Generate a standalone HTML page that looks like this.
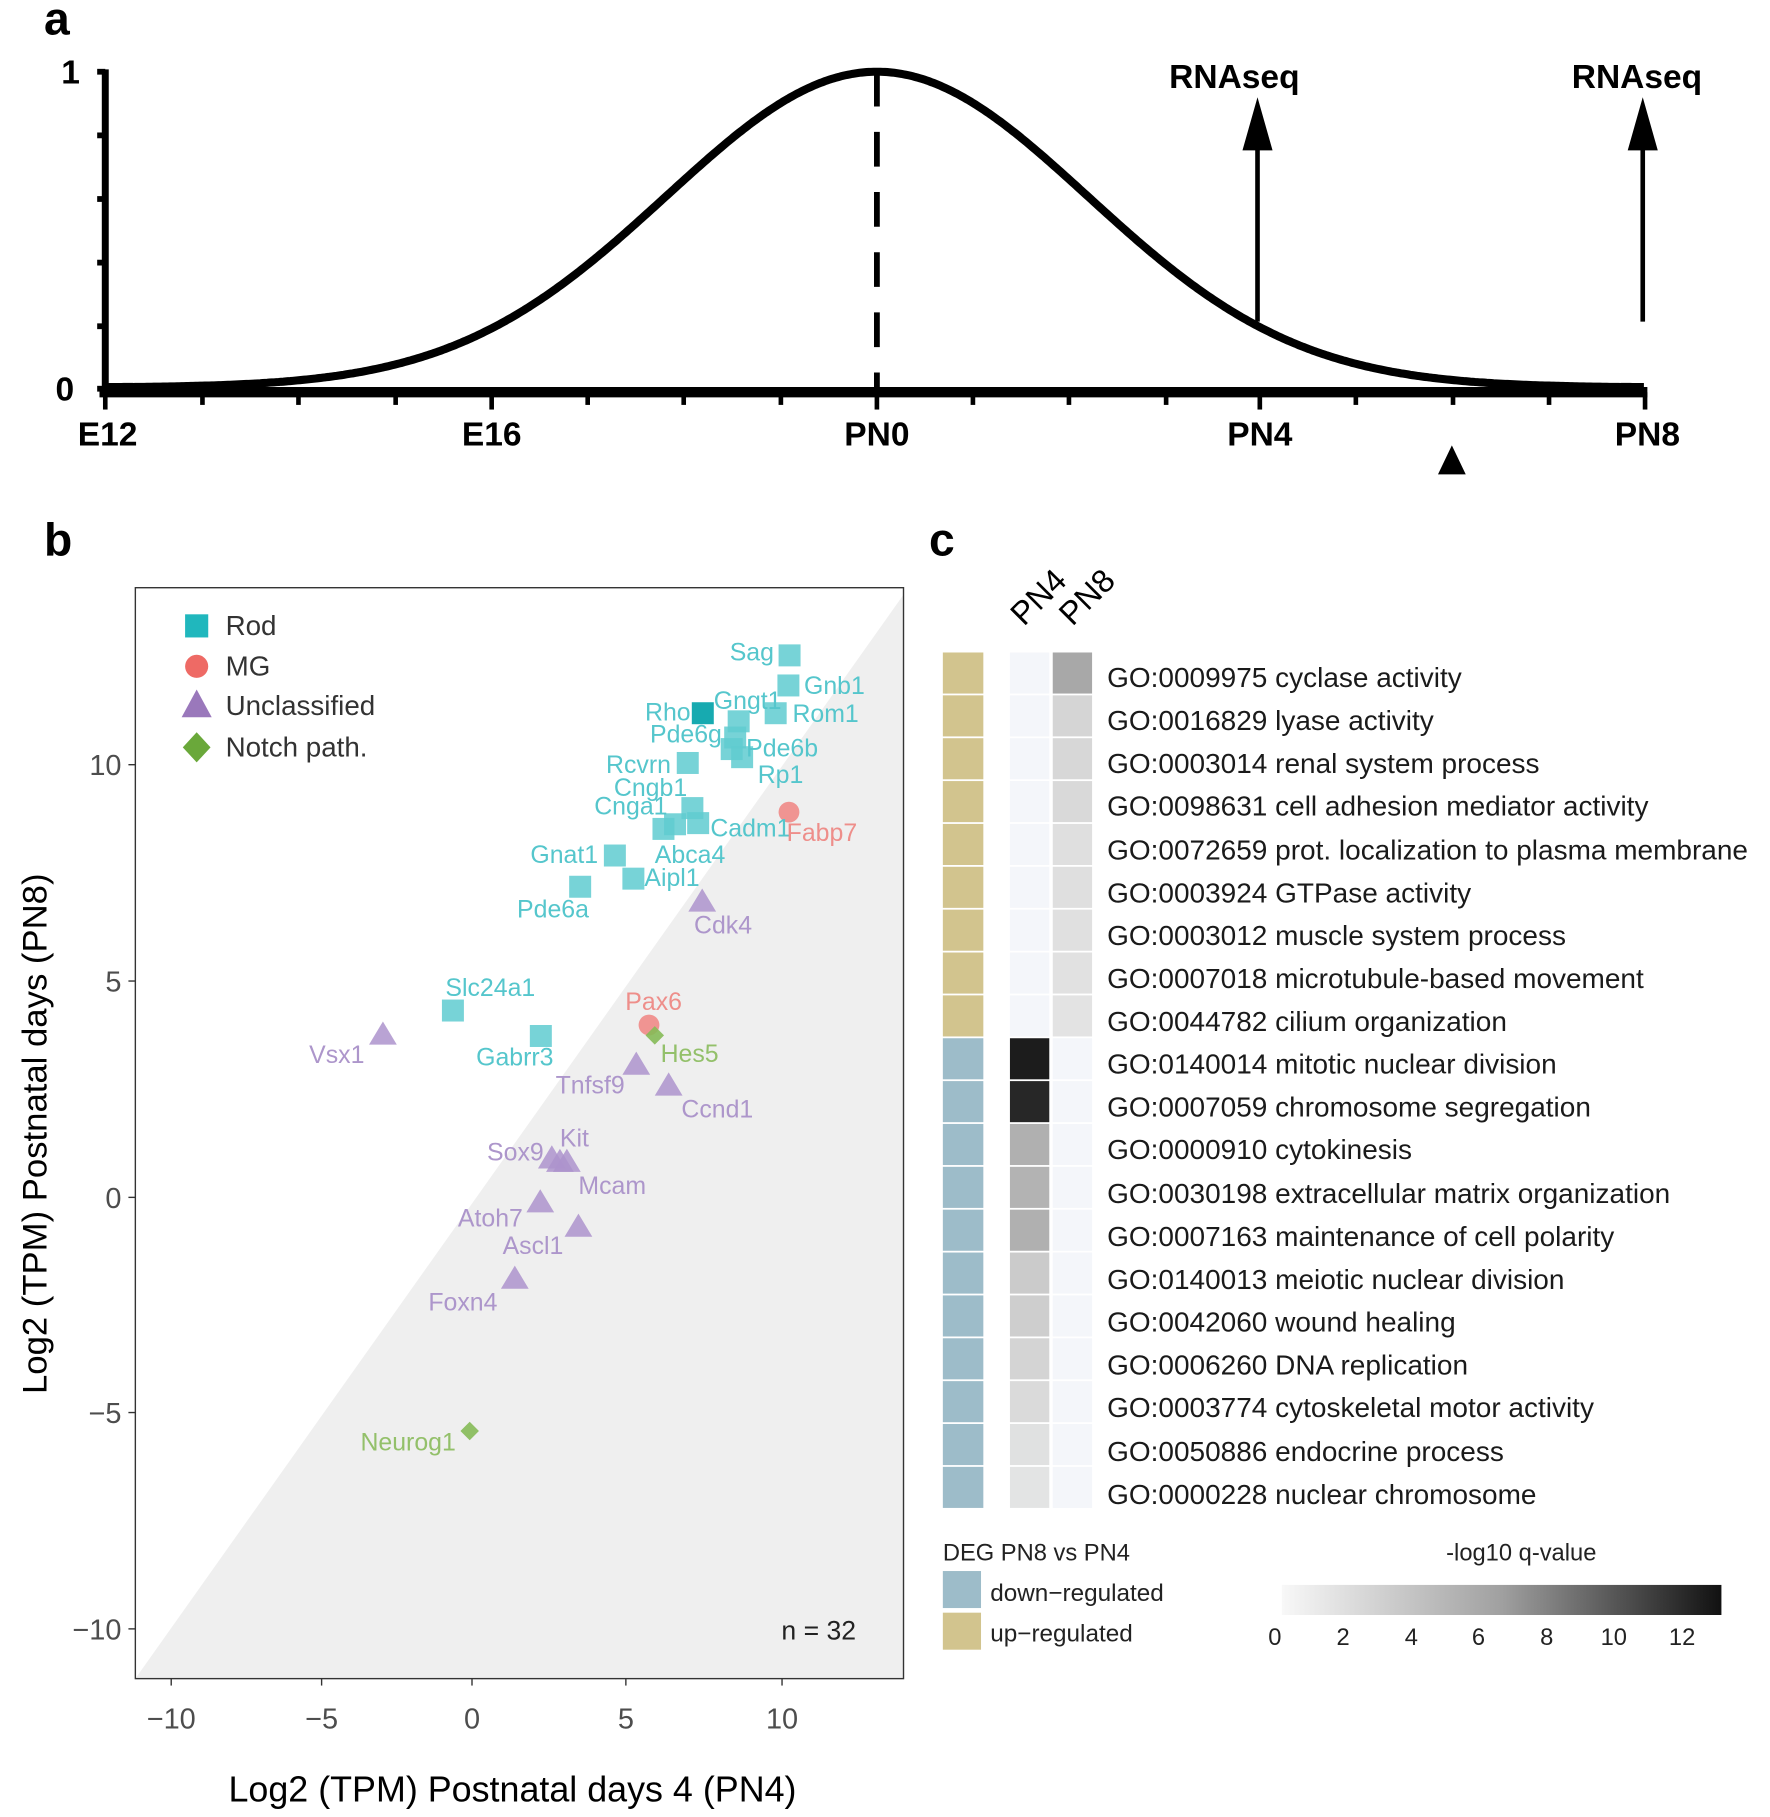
<!DOCTYPE html>
<html><head><meta charset="utf-8"><style>html,body{margin:0;padding:0;background:#fff}svg{display:block}</style></head>
<body>
<svg width="1770" height="1817" viewBox="0 0 1530 1570.6" xmlns="http://www.w3.org/2000/svg" font-family="Liberation Sans, sans-serif">
<!-- Panel a -->
<text x="38" y="30" font-size="40" font-weight="bold">a</text>
<g stroke="#000" fill="none">
<line x1="91" y1="60" x2="91" y2="342" stroke-width="6"/>
<g stroke-width="5"><line x1="84" y1="62" x2="91" y2="62"/><line x1="84" y1="117" x2="91" y2="117"/><line x1="84" y1="172" x2="91" y2="172"/><line x1="84" y1="227" x2="91" y2="227"/><line x1="84" y1="282" x2="91" y2="282"/><line x1="84" y1="336" x2="91" y2="336"/></g>
<line x1="86" y1="339" x2="1424" y2="339" stroke-width="9"/>
<g stroke-width="4">
<line x1="91" y1="339" x2="91" y2="354"/><line x1="175" y1="339" x2="175" y2="350"/><line x1="258" y1="339" x2="258" y2="350"/><line x1="342" y1="339" x2="342" y2="350"/><line x1="425" y1="339" x2="425" y2="354"/><line x1="508" y1="339" x2="508" y2="350"/><line x1="591" y1="339" x2="591" y2="350"/><line x1="675" y1="339" x2="675" y2="350"/><line x1="758" y1="339" x2="758" y2="354"/><line x1="841" y1="339" x2="841" y2="350"/><line x1="924" y1="339" x2="924" y2="350"/><line x1="1008" y1="339" x2="1008" y2="350"/><line x1="1089" y1="339" x2="1089" y2="354"/><line x1="1172" y1="339" x2="1172" y2="350"/><line x1="1256" y1="339" x2="1256" y2="350"/><line x1="1339" y1="339" x2="1339" y2="350"/><line x1="1422" y1="339" x2="1422" y2="354"/>
</g>
<path id="gauss" stroke-width="7" d=""/>
<line x1="758" y1="62" x2="758" y2="338" stroke-width="5" stroke-dasharray="30,22"/>
<line x1="1087" y1="125" x2="1087" y2="278" stroke-width="4"/>
<line x1="1420" y1="125" x2="1420" y2="278" stroke-width="4"/>
</g>
<path d="M1087 84 L1100 130 L1074 130 Z M1420 84 L1433 130 L1407 130 Z M1255 385 L1267 410 L1243 410 Z" fill="#000"/>
<g font-weight="bold" font-size="29" text-anchor="middle">
<text x="1067" y="76">RNAseq</text><text x="1415" y="76">RNAseq</text>
<text x="93" y="385">E12</text><text x="425" y="385">E16</text><text x="758" y="385">PN0</text><text x="1089" y="385">PN4</text><text x="1424" y="385">PN8</text>
<text x="61" y="72">1</text><text x="56" y="346">0</text>
</g>

<!-- Panel b -->
<text x="38" y="480" font-size="40" font-weight="bold">b</text>
<rect x="117" y="508" width="664" height="943" fill="#fff"/>
<path d="M117 1451 L781 514 L781 1451 Z" fill="#efefef"/>
<rect x="117" y="508" width="664" height="943" fill="none" stroke="#333" stroke-width="1.2"/>
<g stroke="#333" stroke-width="1.2">
<line x1="111" y1="661" x2="117" y2="661"/><line x1="111" y1="848" x2="117" y2="848"/><line x1="111" y1="1035" x2="117" y2="1035"/><line x1="111" y1="1221" x2="117" y2="1221"/><line x1="111" y1="1408" x2="117" y2="1408"/>
<line x1="148" y1="1451" x2="148" y2="1457"/><line x1="278" y1="1451" x2="278" y2="1457"/><line x1="408" y1="1451" x2="408" y2="1457"/><line x1="541" y1="1451" x2="541" y2="1457"/><line x1="676" y1="1451" x2="676" y2="1457"/>
</g>
<g font-size="25" fill="#4d4d4d" text-anchor="end">
<text x="105" y="670">10</text><text x="105" y="857">5</text><text x="105" y="1044">0</text><text x="105" y="1230">−5</text><text x="105" y="1417">−10</text>
</g>
<g font-size="25" fill="#4d4d4d" text-anchor="middle">
<text x="148" y="1494">−10</text><text x="278" y="1494">−5</text><text x="408" y="1494">0</text><text x="541" y="1494">5</text><text x="676" y="1494">10</text>
</g>
<text x="443" y="1557" font-size="31" text-anchor="middle">Log2 (TPM) Postnatal days 4 (PN4)</text>
<text transform="translate(40,980) rotate(-90)" font-size="30" text-anchor="middle">Log2 (TPM) Postnatal days (PN8)</text>
<text x="740" y="1417" font-size="23" fill="#222" text-anchor="end">n = 32</text>
<!-- legend -->
<rect x="160" y="531" width="20" height="20" fill="#20b7bd"/>
<circle cx="170" cy="576" r="10" fill="#ee6a65"/>
<path d="M157 620 L183 620 L170 596 Z" fill="#9a78bb"/>
<path d="M170 633 L182 646 L170 659 L158 646 Z" fill="#6aa83a"/>
<g font-size="24" fill="#333"><text x="195" y="549">Rod</text><text x="195" y="584">MG</text><text x="195" y="618">Unclassified</text><text x="195" y="654">Notch path.</text></g>
<!-- rod squares -->
<g fill="#5fcbd0" fill-opacity="0.85">
<rect x="673" y="557" width="19" height="19"/><rect x="672" y="583" width="19" height="19"/>
<rect x="661" y="607" width="19" height="19"/><rect x="629" y="614" width="19" height="19"/><rect x="626" y="628" width="19" height="19"/>
<rect x="623" y="638" width="19" height="19"/><rect x="632" y="645" width="19" height="19"/>
<rect x="585" y="650" width="19" height="19"/>
<rect x="589" y="689" width="19" height="19"/><rect x="594" y="702" width="19" height="19"/><rect x="574" y="703" width="19" height="19"/><rect x="564" y="707" width="19" height="19"/>
<rect x="522" y="730" width="19" height="19"/><rect x="538" y="750" width="19" height="19"/><rect x="492" y="757" width="19" height="19"/>
<rect x="382" y="864" width="19" height="19"/><rect x="458" y="886" width="19" height="19"/>
</g>
<rect x="598" y="607" width="19" height="19" fill="#17aab0"/>
<g fill="#f08a87" fill-opacity="0.9"><circle cx="682" cy="702" r="9"/><circle cx="561" cy="886" r="9"/></g>
<g fill="#85ba57" fill-opacity="0.9"><path d="M566 887 L574 895 L566 903 L558 895 Z"/><path d="M406 1229 L414 1237 L406 1245 L398 1237 Z"/></g>
<g fill="#ad93cc" fill-opacity="0.85">
<path d="M595 788 L619 788 L607 768 Z"/>
<path d="M319 903 L343 903 L331 883 Z"/>
<path d="M538 929 L562 929 L550 909 Z"/>
<path d="M566 947 L590 947 L578 927 Z"/>
<path d="M465 1010 L489 1010 L477 990 Z"/><path d="M472 1013 L496 1013 L484 993 Z"/><path d="M478 1013 L502 1013 L490 993 Z"/>
<path d="M455 1048 L479 1048 L467 1028 Z"/>
<path d="M488 1069 L512 1069 L500 1049 Z"/>
<path d="M433 1114 L457 1114 L445 1094 Z"/>
</g>
<g font-size="21.5">
<g fill="#55c6cc">
<text x="669" y="571" text-anchor="end">Sag</text>
<text x="695" y="600">Gnb1</text>
<text x="597" y="623" text-anchor="end">Rho</text>
<text x="617" y="613">Gngt1</text>
<text x="685" y="624">Rom1</text>
<text x="624" y="642" text-anchor="end">Pde6g</text>
<text x="645" y="654">Pde6b</text>
<text x="655" y="677">Rp1</text>
<text x="580" y="668" text-anchor="end">Rcvrn</text>
<text x="594" y="688" text-anchor="end">Cngb1</text>
<text x="577" y="704" text-anchor="end">Cnga1</text>
<text x="614" y="723">Cadm1</text>
<text x="566" y="746">Abca4</text>
<text x="517" y="746" text-anchor="end">Gnat1</text>
<text x="557" y="766">Aipl1</text>
<text x="478" y="793" text-anchor="middle">Pde6a</text>
<text x="385" y="861">Slc24a1</text>
<text x="445" y="921" text-anchor="middle">Gabrr3</text>
</g>
<g fill="#ee8e8a"><text x="680" y="727">Fabp7</text><text x="565" y="873" text-anchor="middle">Pax6</text></g>
<g fill="#93c06a"><text x="571" y="918">Hes5</text><text x="394" y="1254" text-anchor="end">Neurog1</text></g>
<g fill="#ad96cb">
<text x="625" y="807" text-anchor="middle">Cdk4</text>
<text x="315" y="919" text-anchor="end">Vsx1</text>
<text x="540" y="945" text-anchor="end">Tnfsf9</text>
<text x="589" y="966">Ccnd1</text>
<text x="484" y="991">Kit</text>
<text x="470" y="1003" text-anchor="end">Sox9</text>
<text x="500" y="1032">Mcam</text>
<text x="452" y="1060" text-anchor="end">Atoh7</text>
<text x="487" y="1084" text-anchor="end">Ascl1</text>
<text x="430" y="1133" text-anchor="end">Foxn4</text>
</g>
</g>

<!-- Panel c -->
<text x="803" y="480" font-size="40" font-weight="bold">c</text>
<text transform="translate(885,542) rotate(-45)" font-size="28">PN4</text>
<text transform="translate(927,542) rotate(-45)" font-size="28">PN8</text>
<g id="heat"></g>
<g font-size="24.2" fill="#1a1a1a">
<text x="957" y="594">GO:0009975 cyclase activity</text>
<text x="957" y="631">GO:0016829 lyase activity</text>
<text x="957" y="668">GO:0003014 renal system process</text>
<text x="957" y="705">GO:0098631 cell adhesion mediator activity</text>
<text x="957" y="743">GO:0072659 prot. localization to plasma membrane</text>
<text x="957" y="780">GO:0003924 GTPase activity</text>
<text x="957" y="817">GO:0003012 muscle system process</text>
<text x="957" y="854">GO:0007018 microtubule-based movement</text>
<text x="957" y="891">GO:0044782 cilium organization</text>
<text x="957" y="928">GO:0140014 mitotic nuclear division</text>
<text x="957" y="965">GO:0007059 chromosome segregation</text>
<text x="957" y="1002">GO:0000910 cytokinesis</text>
<text x="957" y="1040">GO:0030198 extracellular matrix organization</text>
<text x="957" y="1077">GO:0007163 maintenance of cell polarity</text>
<text x="957" y="1114">GO:0140013 meiotic nuclear division</text>
<text x="957" y="1151">GO:0042060 wound healing</text>
<text x="957" y="1188">GO:0006260 DNA replication</text>
<text x="957" y="1225">GO:0003774 cytoskeletal motor activity</text>
<text x="957" y="1263">GO:0050886 endocrine process</text>
<text x="957" y="1300">GO:0000228 nuclear chromosome</text>
</g>
<text x="815" y="1349" font-size="20.5" fill="#222">DEG PN8 vs PN4</text>
<rect x="815" y="1358" width="33" height="32" fill="#9dbcc9"/>
<rect x="815" y="1394" width="33" height="32" fill="#d2c48e"/>
<g font-size="21" fill="#222"><text x="856" y="1384">down−regulated</text><text x="856" y="1419">up−regulated</text></g>
<text x="1315" y="1349" font-size="20.5" fill="#222" text-anchor="middle">-log10 q-value</text>
<defs><linearGradient id="gr" x1="0" x2="1" y1="0" y2="0"><stop offset="0" stop-color="#f8f8f8"/><stop offset="0.5" stop-color="#a0a0a0"/><stop offset="1" stop-color="#111"/></linearGradient></defs>
<rect x="1108" y="1370" width="380" height="26" fill="url(#gr)"/>
<g font-size="20.5" fill="#222" text-anchor="middle">
<text x="1102" y="1422">0</text><text x="1161" y="1422">2</text><text x="1220" y="1422">4</text><text x="1278" y="1422">6</text><text x="1337" y="1422">8</text><text x="1395" y="1422">10</text><text x="1454" y="1422">12</text>
</g>
</svg>
<script>
(function(){
 var d="";for(var x=91;x<=1422;x+=2){var y=335-273*Math.exp(-Math.pow(x-758,2)/(2*182*182));d+=(x==91?"M":"L")+x+" "+y.toFixed(1);}
 document.getElementById("gauss").setAttribute("d",d);
 var ns="http://www.w3.org/2000/svg",g=document.getElementById("heat");
 var pn4=["#f4f6fa","#f4f6fa","#f4f6fa","#f4f6fa","#f4f6fa","#f4f6fa","#f4f6fa","#f4f6fa","#f4f6fa","#1c1c1c","#272727","#b0b0b0","#b3b3b3","#b0b0b0","#cbcbcb","#cecece","#d4d4d4","#dadada","#e0e1e1","#e3e4e4"];
 var pn8=["#a8a8a8","#d5d5d5","#d7d7d7","#d9d9d9","#dfdfdf","#dfdfdf","#e0e0e0","#e1e1e1","#e3e3e3","#f4f6fa","#f4f6fa","#f4f6fa","#f4f6fa","#f4f6fa","#f4f6fa","#f4f6fa","#f4f6fa","#f4f6fa","#f4f6fa","#f4f6fa"];
 function r(x,y,w,h,c){var e=document.createElementNS(ns,"rect");e.setAttribute("x",x);e.setAttribute("y",y);e.setAttribute("width",w);e.setAttribute("height",h);e.setAttribute("fill",c);g.appendChild(e);}
 for(var i=0;i<20;i++){var y=564+37.05*i;r(815,y,35,35.5,i<9?"#d2c48e":"#9dbcc9");r(873,y,34,35.5,pn4[i]);r(910,y,34,35.5,pn8[i]);}
})();
</script>
</body></html>
